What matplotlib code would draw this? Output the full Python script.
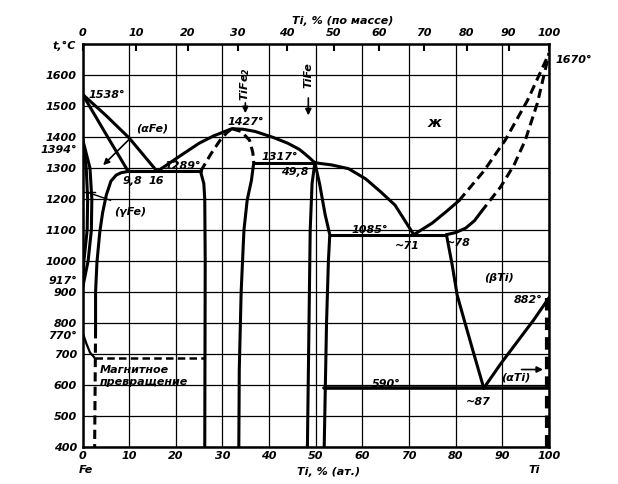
import numpy as np
import matplotlib
matplotlib.use("Agg")
import matplotlib.pyplot as plt

plt.rcParams["font.family"] = ["DejaVu Sans"]
plt.rcParams["font.style"] = "italic"
plt.rcParams["font.weight"] = "bold"

M_TI = 47.87
M_FE = 55.85

# all compositions in at.% Ti, temperatures in deg C
liq_fe_x = [0, 5, 10, 16]
liq_fe_t = [1538, 1470, 1397, 1289]
sol_fe_x = [0, 5.4, 9.8]
sol_fe_t = [1538, 1400, 1289]
solv_fe_x = [9.8, 8.3, 7.2, 6.1, 5.1, 4.3, 3.7, 3.1, 2.8, 2.8]
solv_fe_t = [1289, 1285, 1277, 1258, 1213, 1155, 1093, 997, 900, 780]
solv_fe_low_x = [2.8, 2.6]
solv_fe_low_t = [780, 400]
gam_out_x = [0, 1.6, 2.0, 1.9, 1.2, 0]
gam_out_t = [1394, 1300, 1200, 1100, 1000, 912]
gam_in_x = [0, 0.8, 1.1, 1.0, 0.3, 0]
gam_in_t = [1394, 1300, 1200, 1100, 1000, 912]
mag_x = [0, 0.8, 1.6, 2.6]
mag_t = [770, 735, 705, 688]
mag_dash_x = [2.6, 26.2]
mag_dash_t = [688, 688]

eut1289_x = [9.8, 25.3]
eut1289_t = [1289, 1289]
liq_laves_x = [16, 20.5, 25, 28, 30.5, 32, 34.5, 37, 41, 44, 46.5, 48.5, 49.8]
liq_laves_t = [1289, 1335, 1380, 1403, 1418, 1427, 1425, 1418, 1398, 1380, 1360, 1335, 1317]
laves_sol_x = [25.3, 27.5, 29.5, 31, 32]
laves_sol_t = [1289, 1345, 1390, 1415, 1427]
laves_rdash_x = [32, 34, 35.8, 36.5, 36.7]
laves_rdash_t = [1427, 1418, 1390, 1350, 1317]
laves_r_x = [36.7, 36.2, 35.3, 34.6, 34.0, 33.6, 33.5]
laves_r_t = [1317, 1260, 1197, 1100, 900, 650, 400]
laves_l_x = [25.3, 26.0, 26.2, 26.3, 26.2]
laves_l_t = [1289, 1250, 1200, 1000, 400]
eut1317_x = [36.7, 49.8]
eut1317_t = [1317, 1317]

tife_l_x = [49.8, 49.2, 48.8, 48.5, 48.2]
tife_l_t = [1317, 1250, 1100, 750, 400]
tife_r_x = [49.8, 50.8, 52.0, 53.0, 52.7, 52.3, 51.8]
tife_r_t = [1317, 1250, 1150, 1085, 1000, 800, 400]
liq_mid_x = [49.8, 53.4, 57, 60.7, 64, 67, 69.4, 71]
liq_mid_t = [1317, 1310, 1298, 1265, 1222, 1180, 1123, 1085]
eut1085_x = [53.0, 78]
eut1085_t = [1085, 1085]

liq_ti_x = [71, 75, 78, 80.7]
liq_ti_t = [1085, 1123, 1160, 1195]
liq_ti_dash_x = [80.7, 86, 90.6, 95.4, 100]
liq_ti_dash_t = [1195, 1290, 1390, 1519, 1670]
sol_ti_x = [78, 80, 82.1, 84, 85.4]
sol_ti_t = [1085, 1092, 1106, 1130, 1158]
sol_ti_dash_x = [85.4, 89.6, 92.5, 94.9, 97.5, 100]
sol_ti_dash_t = [1158, 1239, 1310, 1390, 1510, 1670]
beta_x = [78, 79.2, 80.3, 81.8, 83.5, 86]
beta_t = [1085, 990, 890, 810, 720, 590]
alpha_ti_x = [86, 89.7, 96.7, 100]
alpha_ti_t = [590, 670, 810, 882]
eut590_x = [51.8, 100]
eut590_t = [590, 590]
ti_edge_x = [99.6, 99.6]
ti_edge_t = [882, 400]

x_ticks = list(range(0, 101, 10))
t_ticks = list(range(400, 1700, 100))
mass_ticks = list(range(0, 101, 10))


def mass_to_at(w):
    w = np.asarray(w, dtype=float)
    a = w / M_TI
    b = (100 - w) / M_FE
    return 100 * a / (a + b)


def at_to_mass(x):
    x = np.asarray(x, dtype=float)
    return 100 * x * M_TI / (x * M_TI + (100 - x) * M_FE)


fs = 8

fig = plt.figure(figsize=(6.18, 4.84), dpi=100)
ax = fig.add_axes([0.1335, 0.0764, 0.755, 0.8326])
ax.set_xlim(0, 100)
ax.set_ylim(400, 1700)
ax.set_xticks(x_ticks)
ax.set_yticks(t_ticks)
ax.grid(True, color="black", lw=0.9)
ax.tick_params(length=0, labelsize=fs, pad=4)
ax.tick_params(axis="x", pad=3)
for s in ax.spines.values():
    s.set_linewidth(1.8)

top = ax.secondary_xaxis("top", functions=(at_to_mass, mass_to_at))
top.set_xticks(mass_ticks)
top.tick_params(direction="in", length=5, width=1.5, labelsize=fs, pad=4)

LW = 2.2
DASH = (0, (3.0, 1.7))


def line(x, t, dashed=False, lw=LW):
    ax.plot(x, t, color="black", lw=lw, ls=DASH if dashed else "-",
            solid_capstyle="round", zorder=3)


line(liq_fe_x, liq_fe_t)
line(sol_fe_x, sol_fe_t)
line(solv_fe_x, solv_fe_t)
line(solv_fe_low_x, solv_fe_low_t, dashed=True)
line(gam_out_x, gam_out_t)
line(gam_in_x, gam_in_t)
line(mag_x, mag_t, lw=1.6)
line(mag_dash_x, mag_dash_t, dashed=True, lw=1.8)
line(eut1289_x, eut1289_t)
line(liq_laves_x, liq_laves_t)
line(laves_sol_x, laves_sol_t, dashed=True)
line(laves_rdash_x, laves_rdash_t, dashed=True)
line(laves_r_x, laves_r_t)
line(laves_l_x, laves_l_t)
line(eut1317_x, eut1317_t)
line(tife_l_x, tife_l_t)
line(tife_r_x, tife_r_t)
line(liq_mid_x, liq_mid_t)
line(eut1085_x, eut1085_t)
line(liq_ti_x, liq_ti_t)
line(liq_ti_dash_x, liq_ti_dash_t, dashed=True)
line(sol_ti_x, sol_ti_t)
line(sol_ti_dash_x, sol_ti_dash_t, dashed=True)
line(beta_x, beta_t)
line(alpha_ti_x, alpha_ti_t)
line(eut590_x, eut590_t, lw=2.6)
line(ti_edge_x, ti_edge_t, dashed=True, lw=3)

txt = dict(fontsize=fs, zorder=4)
ax.text(1.3, 1535, "1538°", ha="left", va="center", **txt)
ax.text(15.0, 1429, "(αFe)", ha="center", va="center", **txt)
ax.text(34.9, 1448, "1427°", ha="center", va="center", **txt)
ax.text(21.4, 1306, "1289°", ha="center", va="center", **txt)
ax.text(10.6, 1258, "9,8", ha="center", va="center", **txt)
ax.text(15.9, 1258, "16", ha="center", va="center", **txt)
ax.text(42.2, 1335, "1317°", ha="center", va="center", **txt)
ax.text(45.4, 1287, "49,8", ha="center", va="center", **txt)
ax.text(10.3, 1158, "(γFe)", ha="center", va="center", **txt)
ax.text(75.5, 1445, "ж", ha="center", va="center", fontsize=10, zorder=4)
ax.text(101.3, 1650, "1670°", ha="left", va="center", clip_on=False, **txt)
ax.text(61.6, 1100, "1085°", ha="center", va="center", **txt)
ax.text(69.6, 1048, "~71", ha="center", va="center", **txt)
ax.text(80.5, 1058, "~78", ha="center", va="center", **txt)
ax.text(89.2, 945, "(βTi)", ha="center", va="center", **txt)
ax.text(95.5, 874, "882°", ha="center", va="center", **txt)
ax.text(65.1, 602, "590°", ha="center", va="center", **txt)
ax.text(84.9, 545, "~87", ha="center", va="center", **txt)
ax.text(92.8, 623, "(αTi)", ha="center", va="center", **txt)
ax.text(3.6, 650, "Магнитное", ha="left", va="center", **txt)
ax.text(3.6, 610, "превращение", ha="left", va="center", **txt)
ax.text(34.9, 1570, "TiFe$_2$", rotation=90, ha="center", va="center", **txt)
ax.text(48.4, 1600, "TiFe", rotation=90, ha="center", va="center", **txt)

arrow = dict(arrowstyle="-|>", color="black", lw=1.2, mutation_scale=9)
ax.annotate("", xy=(4.0, 1303), xytext=(10.3, 1397), arrowprops=arrow)
ax.annotate("", xy=(34.9, 1468), xytext=(34.9, 1519), arrowprops=arrow)
ax.annotate("", xy=(48.4, 1461), xytext=(48.4, 1535), arrowprops=arrow)
ax.annotate("", xy=(99.3, 650), xytext=(93.5, 650), arrowprops=arrow)
ax.plot([6.0, 1.0], [1196, 1222], color="black", lw=1.0, zorder=4)
ax.plot([0.2, 2.6], [1222, 1222], color="black", lw=1.0, zorder=4)

# extra temperature marks left of the axis
ax.text(-1.1, 1357, "1394°", ha="right", va="center", clip_on=False, **txt)
ax.text(-1.1, 934, "917°", ha="right", va="center", clip_on=False, **txt)
ax.text(-1.1, 758, "770°", ha="right", va="center", clip_on=False, **txt)
ax.text(-1.5, 1693, "t,°C", ha="right", va="center", clip_on=False, **txt)

fig.text(0.555, 0.957, "Ti, % (по массе)", ha="center", va="center", fontsize=fs)
fig.text(0.531, 0.025, "Ti, % (ат.)", ha="center", va="center", fontsize=fs)
fig.text(0.139, 0.029, "Fe", ha="center", va="center", fontsize=fs)
fig.text(0.864, 0.029, "Ti", ha="center", va="center", fontsize=fs)

fig.savefig("out.png", dpi=100, facecolor="white")
